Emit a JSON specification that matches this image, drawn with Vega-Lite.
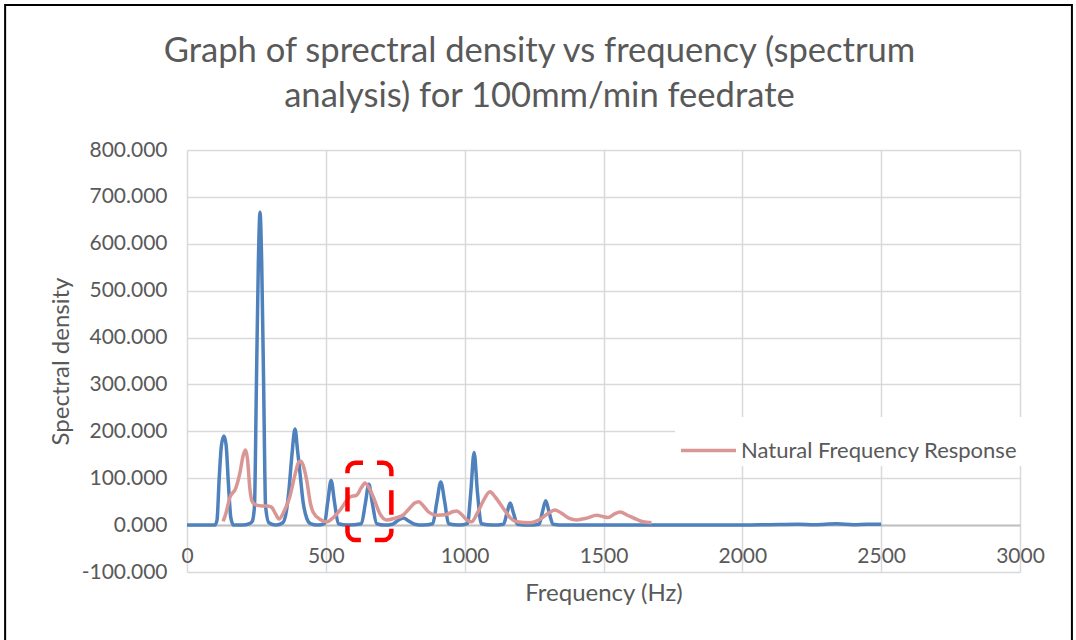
{
  "$schema": "https://vega.github.io/schema/vega-lite/v6.json",
  "width": 833,
  "height": 422,
  "autosize": {"type": "none"},
  "padding": {"left": 187, "top": 150, "right": 56, "bottom": 68},
  "background": "white",
  "title": {
    "text": ["Graph of sprectral density vs frequency (spectrum", "analysis) for 100mm/min feedrate"],
    "font": "Lato",
    "fontSize": 34.6,
    "fontWeight": "normal",
    "color": "#595959",
    "lineHeight": 45,
    "anchor": "middle",
    "frame": "group",
    "dx": -64,
    "baseline": "bottom",
    "offset": -144
  },
  "config": {
    "view": {"stroke": null},
    "font": "Lato"
  },
  "data": {
    "values": [
      {"series": "Spectral density", "freq": 0, "value": 0},
      {"series": "Spectral density", "freq": 50, "value": 0},
      {"series": "Spectral density", "freq": 100, "value": 0},
      {"series": "Spectral density", "freq": 108, "value": 10},
      {"series": "Spectral density", "freq": 116, "value": 100},
      {"series": "Spectral density", "freq": 124, "value": 170},
      {"series": "Spectral density", "freq": 133, "value": 190},
      {"series": "Spectral density", "freq": 141, "value": 170},
      {"series": "Spectral density", "freq": 149, "value": 90},
      {"series": "Spectral density", "freq": 158, "value": 15},
      {"series": "Spectral density", "freq": 168, "value": 0},
      {"series": "Spectral density", "freq": 200, "value": 0},
      {"series": "Spectral density", "freq": 225, "value": 3},
      {"series": "Spectral density", "freq": 235, "value": 8},
      {"series": "Spectral density", "freq": 243, "value": 40},
      {"series": "Spectral density", "freq": 250, "value": 300},
      {"series": "Spectral density", "freq": 257, "value": 560},
      {"series": "Spectral density", "freq": 263, "value": 667},
      {"series": "Spectral density", "freq": 269, "value": 560},
      {"series": "Spectral density", "freq": 276, "value": 300},
      {"series": "Spectral density", "freq": 283, "value": 40},
      {"series": "Spectral density", "freq": 295, "value": 5},
      {"series": "Spectral density", "freq": 320, "value": 0},
      {"series": "Spectral density", "freq": 345, "value": 5},
      {"series": "Spectral density", "freq": 358, "value": 30},
      {"series": "Spectral density", "freq": 367, "value": 74},
      {"series": "Spectral density", "freq": 378, "value": 150},
      {"series": "Spectral density", "freq": 389, "value": 205},
      {"series": "Spectral density", "freq": 398, "value": 160},
      {"series": "Spectral density", "freq": 407, "value": 111},
      {"series": "Spectral density", "freq": 418, "value": 50},
      {"series": "Spectral density", "freq": 431, "value": 15},
      {"series": "Spectral density", "freq": 445, "value": 3},
      {"series": "Spectral density", "freq": 470, "value": 0},
      {"series": "Spectral density", "freq": 495, "value": 3},
      {"series": "Spectral density", "freq": 507, "value": 50},
      {"series": "Spectral density", "freq": 519, "value": 95},
      {"series": "Spectral density", "freq": 531, "value": 50},
      {"series": "Spectral density", "freq": 545, "value": 3},
      {"series": "Spectral density", "freq": 580, "value": 0},
      {"series": "Spectral density", "freq": 628, "value": 3},
      {"series": "Spectral density", "freq": 642, "value": 45},
      {"series": "Spectral density", "freq": 655, "value": 87},
      {"series": "Spectral density", "freq": 668, "value": 45},
      {"series": "Spectral density", "freq": 683, "value": 3},
      {"series": "Spectral density", "freq": 710, "value": 0},
      {"series": "Spectral density", "freq": 740, "value": 2},
      {"series": "Spectral density", "freq": 765, "value": 12},
      {"series": "Spectral density", "freq": 780, "value": 15},
      {"series": "Spectral density", "freq": 795, "value": 10},
      {"series": "Spectral density", "freq": 820, "value": 2},
      {"series": "Spectral density", "freq": 850, "value": 0},
      {"series": "Spectral density", "freq": 885, "value": 3},
      {"series": "Spectral density", "freq": 900, "value": 50},
      {"series": "Spectral density", "freq": 914, "value": 92},
      {"series": "Spectral density", "freq": 928, "value": 50},
      {"series": "Spectral density", "freq": 942, "value": 3},
      {"series": "Spectral density", "freq": 980, "value": 0},
      {"series": "Spectral density", "freq": 1010, "value": 3},
      {"series": "Spectral density", "freq": 1022, "value": 70},
      {"series": "Spectral density", "freq": 1034, "value": 155},
      {"series": "Spectral density", "freq": 1046, "value": 70},
      {"series": "Spectral density", "freq": 1060, "value": 3},
      {"series": "Spectral density", "freq": 1100, "value": 0},
      {"series": "Spectral density", "freq": 1140, "value": 2},
      {"series": "Spectral density", "freq": 1152, "value": 25},
      {"series": "Spectral density", "freq": 1164, "value": 47},
      {"series": "Spectral density", "freq": 1176, "value": 25},
      {"series": "Spectral density", "freq": 1190, "value": 2},
      {"series": "Spectral density", "freq": 1230, "value": 0},
      {"series": "Spectral density", "freq": 1268, "value": 2},
      {"series": "Spectral density", "freq": 1280, "value": 28},
      {"series": "Spectral density", "freq": 1292, "value": 52},
      {"series": "Spectral density", "freq": 1304, "value": 28},
      {"series": "Spectral density", "freq": 1318, "value": 2},
      {"series": "Spectral density", "freq": 1360, "value": 0},
      {"series": "Spectral density", "freq": 1500, "value": 0},
      {"series": "Spectral density", "freq": 1700, "value": 0},
      {"series": "Spectral density", "freq": 1900, "value": 0},
      {"series": "Spectral density", "freq": 2000, "value": 0},
      {"series": "Spectral density", "freq": 2100, "value": 1},
      {"series": "Spectral density", "freq": 2200, "value": 2},
      {"series": "Spectral density", "freq": 2260, "value": 1},
      {"series": "Spectral density", "freq": 2340, "value": 3},
      {"series": "Spectral density", "freq": 2400, "value": 1},
      {"series": "Spectral density", "freq": 2450, "value": 2},
      {"series": "Spectral density", "freq": 2500, "value": 2},
      {"series": "Natural Frequency Response", "freq": 130, "value": 8},
      {"series": "Natural Frequency Response", "freq": 140, "value": 25},
      {"series": "Natural Frequency Response", "freq": 155, "value": 60},
      {"series": "Natural Frequency Response", "freq": 175, "value": 78},
      {"series": "Natural Frequency Response", "freq": 190, "value": 110},
      {"series": "Natural Frequency Response", "freq": 203, "value": 150},
      {"series": "Natural Frequency Response", "freq": 211, "value": 160},
      {"series": "Natural Frequency Response", "freq": 218, "value": 140},
      {"series": "Natural Frequency Response", "freq": 226, "value": 80},
      {"series": "Natural Frequency Response", "freq": 235, "value": 50},
      {"series": "Natural Frequency Response", "freq": 248, "value": 43},
      {"series": "Natural Frequency Response", "freq": 270, "value": 41},
      {"series": "Natural Frequency Response", "freq": 290, "value": 41},
      {"series": "Natural Frequency Response", "freq": 305, "value": 38},
      {"series": "Natural Frequency Response", "freq": 318, "value": 25},
      {"series": "Natural Frequency Response", "freq": 331, "value": 13},
      {"series": "Natural Frequency Response", "freq": 350, "value": 30},
      {"series": "Natural Frequency Response", "freq": 370, "value": 60},
      {"series": "Natural Frequency Response", "freq": 390, "value": 110},
      {"series": "Natural Frequency Response", "freq": 403, "value": 135},
      {"series": "Natural Frequency Response", "freq": 410, "value": 136},
      {"series": "Natural Frequency Response", "freq": 418, "value": 128},
      {"series": "Natural Frequency Response", "freq": 431, "value": 96},
      {"series": "Natural Frequency Response", "freq": 445, "value": 45},
      {"series": "Natural Frequency Response", "freq": 454, "value": 28},
      {"series": "Natural Frequency Response", "freq": 480, "value": 12},
      {"series": "Natural Frequency Response", "freq": 503, "value": 7},
      {"series": "Natural Frequency Response", "freq": 530, "value": 18},
      {"series": "Natural Frequency Response", "freq": 551, "value": 32},
      {"series": "Natural Frequency Response", "freq": 587, "value": 60},
      {"series": "Natural Frequency Response", "freq": 611, "value": 64},
      {"series": "Natural Frequency Response", "freq": 628, "value": 80},
      {"series": "Natural Frequency Response", "freq": 641, "value": 90},
      {"series": "Natural Frequency Response", "freq": 655, "value": 80},
      {"series": "Natural Frequency Response", "freq": 671, "value": 60},
      {"series": "Natural Frequency Response", "freq": 695, "value": 24},
      {"series": "Natural Frequency Response", "freq": 719, "value": 11},
      {"series": "Natural Frequency Response", "freq": 750, "value": 15},
      {"series": "Natural Frequency Response", "freq": 778, "value": 21},
      {"series": "Natural Frequency Response", "freq": 800, "value": 35},
      {"series": "Natural Frequency Response", "freq": 820, "value": 47},
      {"series": "Natural Frequency Response", "freq": 835, "value": 50},
      {"series": "Natural Frequency Response", "freq": 850, "value": 42},
      {"series": "Natural Frequency Response", "freq": 870, "value": 28},
      {"series": "Natural Frequency Response", "freq": 899, "value": 21},
      {"series": "Natural Frequency Response", "freq": 930, "value": 22},
      {"series": "Natural Frequency Response", "freq": 960, "value": 29},
      {"series": "Natural Frequency Response", "freq": 971, "value": 30},
      {"series": "Natural Frequency Response", "freq": 990, "value": 22},
      {"series": "Natural Frequency Response", "freq": 1010, "value": 10},
      {"series": "Natural Frequency Response", "freq": 1025, "value": 7},
      {"series": "Natural Frequency Response", "freq": 1045, "value": 25},
      {"series": "Natural Frequency Response", "freq": 1070, "value": 55},
      {"series": "Natural Frequency Response", "freq": 1091, "value": 71},
      {"series": "Natural Frequency Response", "freq": 1110, "value": 60},
      {"series": "Natural Frequency Response", "freq": 1140, "value": 35},
      {"series": "Natural Frequency Response", "freq": 1165, "value": 15},
      {"series": "Natural Frequency Response", "freq": 1187, "value": 7},
      {"series": "Natural Frequency Response", "freq": 1235, "value": 5},
      {"series": "Natural Frequency Response", "freq": 1270, "value": 12},
      {"series": "Natural Frequency Response", "freq": 1300, "value": 25},
      {"series": "Natural Frequency Response", "freq": 1325, "value": 32},
      {"series": "Natural Frequency Response", "freq": 1350, "value": 25},
      {"series": "Natural Frequency Response", "freq": 1375, "value": 15},
      {"series": "Natural Frequency Response", "freq": 1403, "value": 11},
      {"series": "Natural Frequency Response", "freq": 1440, "value": 15},
      {"series": "Natural Frequency Response", "freq": 1475, "value": 21},
      {"series": "Natural Frequency Response", "freq": 1500, "value": 18},
      {"series": "Natural Frequency Response", "freq": 1516, "value": 16},
      {"series": "Natural Frequency Response", "freq": 1540, "value": 24},
      {"series": "Natural Frequency Response", "freq": 1559, "value": 28},
      {"series": "Natural Frequency Response", "freq": 1590, "value": 20},
      {"series": "Natural Frequency Response", "freq": 1620, "value": 12},
      {"series": "Natural Frequency Response", "freq": 1642, "value": 7},
      {"series": "Natural Frequency Response", "freq": 1673, "value": 5}
    ]
  },
  "layer": [
    {
      "transform": [{"filter": "datum.series === 'Spectral density'"}],
      "mark": {"type": "line", "interpolate": "monotone", "strokeWidth": 3.5},
      "encoding": {
        "x": {
          "field": "freq",
          "type": "quantitative",
          "scale": {"domain": [0, 3000], "nice": false, "zero": false},
          "axis": {
            "values": [0, 500, 1000, 1500, 2000, 2500, 3000],
            "format": "d",
            "grid": true,
            "gridColor": "#d9d9d9",
            "gridWidth": 1.5,
            "domainColor": "#bfbfbf",
            "domainWidth": 2,
            "offset": -47,
            "ticks": false,
            "tickSize": 0,
            "labelPadding": 20,
            "labelFont": "Lato",
            "labelFontSize": 21,
            "labelColor": "#595959",
            "labelFlush": false,
            "labelOverlap": false,
            "title": "Frequency (Hz)",
            "titleFont": "Lato",
            "titleFontSize": 24,
            "titleFontWeight": "normal",
            "titleColor": "#595959",
            "titlePadding": 15
          }
        },
        "y": {
          "field": "value",
          "type": "quantitative",
          "scale": {"domain": [-100, 800], "nice": false, "zero": false},
          "axis": {
            "values": [-100, 0, 100, 200, 300, 400, 500, 600, 700, 800],
            "labelExpr": "datum.value < 0 ? '-' + format(-datum.value, '.3f') : format(datum.value, '.3f')",
            "grid": true,
            "gridColor": "#d9d9d9",
            "gridWidth": 1.5,
            "domain": false,
            "ticks": false,
            "tickSize": 0,
            "labelPadding": 20,
            "labelFont": "Lato",
            "labelFontSize": 21,
            "labelColor": "#595959",
            "title": "Spectral density",
            "titleFont": "Lato",
            "titleFontSize": 24,
            "titleFontWeight": "normal",
            "titleColor": "#595959",
            "titlePadding": 8
          }
        },
        "color": {
          "field": "series",
          "type": "nominal",
          "scale": {"domain": ["Spectral density", "Natural Frequency Response"], "range": ["#4f81bd", "#d99694"]},
          "legend": {
            "values": ["Natural Frequency Response"],
            "orient": "none",
            "legendX": 488,
            "legendY": 267,
            "title": null,
            "symbolType": "stroke",
            "symbolSize": 3025,
            "symbolStrokeWidth": 3.5,
            "labelFont": "Lato",
            "labelFontSize": 22,
            "labelColor": "#595959",
            "labelLimit": 0,
            "labelOffset": 3,
            "fillColor": "white",
            "padding": 4
          }
        }
      }
    },
    {
      "transform": [{"filter": "datum.series === 'Natural Frequency Response'"}],
      "mark": {"type": "line", "interpolate": "monotone", "strokeWidth": 3.5},
      "encoding": {
        "x": {"field": "freq", "type": "quantitative"},
        "y": {"field": "value", "type": "quantitative"},
        "color": {"field": "series", "type": "nominal"}
      }
    },
    {
      "data": {"values": [{"note": "highlight"}]},
      "mark": {"type": "rect", "filled": false, "color": "#ff0000", "strokeWidth": 4.5, "strokeDash": [24.4, 14], "strokeDashOffset": 16.9, "cornerRadius": 8},
      "encoding": {
        "x": {"datum": 578, "type": "quantitative"},
        "x2": {"datum": 736},
        "y": {"datum": 133, "type": "quantitative"},
        "y2": {"datum": -32}
      }
    },
    {
      "data": {"values": [{"note": "frame"}]},
      "mark": {"type": "rect", "filled": false, "color": "#000000", "strokeWidth": 2, "clip": false},
      "encoding": {
        "x": {"datum": -655, "type": "quantitative"},
        "x2": {"datum": 3187},
        "y": {"datum": 1109, "type": "quantitative"},
        "y2": {"datum": -266}
      }
    }
  ]
}
